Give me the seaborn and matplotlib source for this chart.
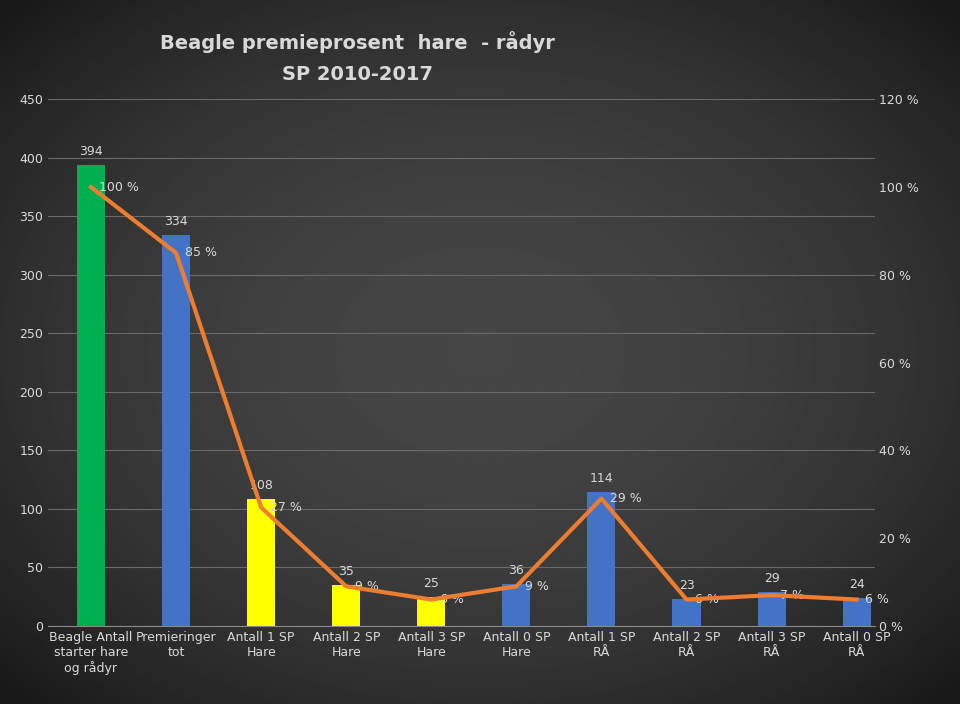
import matplotlib
matplotlib.use("Agg")
import matplotlib.pyplot as plt
import numpy as np
import pandas as pd
import seaborn as sns

categories = ["Beagle Antall\nstarter hare\nog rådyr", "Premieringer\ntot", "Antall 1 SP\nHare",
              "Antall 2 SP\nHare", "Antall 3 SP\nHare", "Antall 0 SP\nHare", "Antall 1 SP\nRÅ",
              "Antall 2 SP\nRÅ", "Antall 3 SP\nRÅ", "Antall 0 SP\nRÅ"]
counts = [394, 334, 108, 35, 25, 36, 114, 23, 29, 24]
percents = [100, 85, 27, 9, 6, 9, 29, 6, 7, 6]
bar_colors = ["#00B050", "#4472C4", "#FFFF00", "#FFFF00", "#FFFF00",
              "#4472C4", "#4472C4", "#4472C4", "#4472C4", "#4472C4"]

txt = "#d9d9d9"
fig = plt.figure(figsize=(9.6, 7.04), dpi=100)

# radial dark background
bg = fig.add_axes([0, 0, 1, 1], zorder=-10)
yy, xx = np.mgrid[-1:1:300j, -1:1:400j]
r = np.sqrt(xx**2 + yy**2)
bg.imshow(0.27 - 0.09 * r**2, cmap="gray", vmin=0, vmax=1, aspect="auto")
bg.axis("off")

ax = fig.add_axes([0.05, 0.111, 0.861, 0.748])
ax.patch.set_alpha(0)
df = pd.DataFrame({"cat": categories, "n": counts})
sns.barplot(data=df, x="cat", y="n", hue="cat", palette=bar_colors, legend=False,
            width=0.33, ax=ax, saturation=1, zorder=3)
ax.set_xlim(-0.505, 9.21)
ax.set_ylim(0, 450)
ax.set_yticks(range(0, 451, 50))
ax.grid(axis="y", color="#6a6a6a", linewidth=0.8, zorder=0)
ax.set_xlabel("")
ax.set_ylabel("")
ax.tick_params(colors=txt, length=0, labelsize=9)
for s in ax.spines.values():
    s.set_visible(False)
ax.spines["bottom"].set_visible(True)
ax.spines["bottom"].set_color("#8a8a8a")
for i, c in enumerate(counts):
    ax.text(i, c + 6, str(c), ha="center", va="bottom", color=txt, fontsize=9)

ax2 = ax.twinx()
ax2.plot(range(len(percents)), percents, color="#ED7D31", linewidth=3, zorder=5)
ax2.set_xlim(-0.505, 9.21)
ax2.set_ylim(0, 120)
ax2.set_yticks(range(0, 121, 20))
ax2.set_yticklabels([f"{v} %" for v in range(0, 121, 20)])
ax2.tick_params(colors=txt, length=0, labelsize=9)
for s in ax2.spines.values():
    s.set_visible(False)
for i, p in enumerate(percents):
    ax2.text(i + 0.1, p, f"{p} %", ha="left", va="center", color=txt, fontsize=9)

fig.text(0.372, 0.93, "Beagle premieprosent  hare  - rådyr", ha="center", color=txt,
         fontsize=14, fontweight="bold")
fig.text(0.372, 0.886, "SP 2010-2017", ha="center", color=txt, fontsize=14, fontweight="bold")

fig.savefig("out.png", dpi=100)
